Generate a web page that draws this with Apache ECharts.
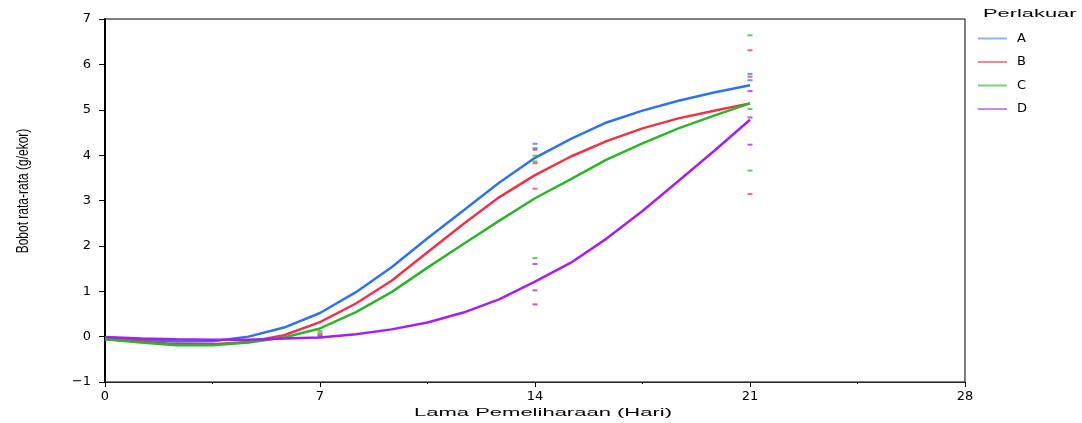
<!DOCTYPE html>
<html>
<head>
<meta charset="utf-8">
<script src="https://cdn.jsdelivr.net/npm/echarts@6/dist/echarts.min.js"></script>
<style>
html,body{margin:0;padding:0;background:#fff;}
#chart{width:1082px;height:423px;}
</style>
</head>
<body>
<div id="chart"></div>
<script>
// Fitted-curve sample days
const days = [0, 1.17, 2.33, 3.5, 4.67, 5.83, 7, 8.17, 9.33, 10.5, 11.67, 12.83, 14, 15.17, 16.33, 17.5, 18.67, 19.83, 21];
// Fitted curves per treatment
const fitA = [-0.04, -0.07, -0.11, -0.10, 0.00, 0.20, 0.52, 0.98, 1.53, 2.17, 2.78, 3.39, 3.94, 4.36, 4.72, 4.98, 5.20, 5.38, 5.54];
const fitB = [-0.06, -0.11, -0.17, -0.17, -0.12, 0.03, 0.32, 0.73, 1.23, 1.86, 2.48, 3.07, 3.56, 3.97, 4.31, 4.59, 4.81, 4.98, 5.14];
const fitC = [-0.06, -0.13, -0.19, -0.19, -0.13, -0.02, 0.18, 0.54, 0.98, 1.52, 2.04, 2.55, 3.05, 3.47, 3.90, 4.26, 4.59, 4.87, 5.14];
const fitD = [-0.01, -0.04, -0.06, -0.07, -0.07, -0.04, -0.02, 0.05, 0.16, 0.31, 0.53, 0.82, 1.21, 1.63, 2.16, 2.77, 3.43, 4.09, 4.78];
// Observed replicate values: [day, weight]
const obsA = [[14, 4.25], [14, 4.15], [21, 5.79], [21, 5.65]];
const obsB = [[7, 0.07], [14, 4.12], [14, 3.82], [14, 3.26], [21, 6.31], [21, 5.73], [21, 3.14]];
const obsC = [[7, 0.12], [7, 0.04], [14, 3.99], [14, 3.86], [14, 1.73], [21, 6.64], [21, 5.02], [21, 3.66]];
const obsD = [[7, 0.01], [14, 1.60], [14, 1.02], [14, 0.71], [21, 5.41], [21, 4.83], [21, 4.23]];
const groups = ['A', 'B', 'C', 'D'];
const xTicks = [0, 7, 14, 21, 28];
const yTicks = [-1, 0, 1, 2, 3, 4, 5, 6, 7];
const legendTitle = 'Perlakuar';
const xTitle = 'Lama Pemeliharaan (Hari)';
const yTitle = 'Bobot rata-rata (g/ekor)';

const colors = ['#2f72ee', '#ec3349', '#2cb52c', '#a41ff0'];
const legendColors = ['#8fb0f2', '#f08a94', '#7fcf7f', '#c884f2'];
const fits = [fitA, fitB, fitC, fitD];
const obs = [obsA, obsB, obsC, obsD];

const series = [];
groups.forEach((g, i) => {
  series.push({
    name: g, type: 'line', data: days.map((d, j) => [d, fits[i][j]]),
    showSymbol: false, symbol: 'none', smooth: false,
    lineStyle: { color: colors[i], width: 2.5 }, itemStyle: { color: colors[i] },
    z: 3, animation: false
  });
});
groups.forEach((g, i) => {
  series.push({
    name: g, type: 'scatter', data: obs[i],
    symbol: 'rect', symbolSize: [5, 2],
    itemStyle: { color: colors[i], opacity: 0.75 },
    z: 4, animation: false
  });
});

const FONT = 'Liberation Sans, Arial, sans-serif';
const WIDE = 'DejaVu Sans, Verdana, sans-serif';
const chart = echarts.init(document.getElementById('chart'));
chart.setOption({
  animation: false,
  backgroundColor: '#fff',
  graphic: [
    { type: 'text', x: 983, y: 14, scaleX: 1.9,
      style: { text: legendTitle, fontSize: 11.5, fontFamily: FONT, fill: '#000', textAlign: 'left', align: 'left', textVerticalAlign: 'middle', verticalAlign: 'middle' } },
    { type: 'text', x: 543, y: 413, scaleX: 2.0,
      style: { text: xTitle, fontSize: 11, fontFamily: FONT, fill: '#000', textAlign: 'center', align: 'center', textVerticalAlign: 'middle', verticalAlign: 'middle' } },
    { type: 'text', x: 23, y: 191, rotation: Math.PI / 2, scaleY: 1.4,
      style: { text: yTitle, fontSize: 12, fontFamily: FONT, fill: '#000', textAlign: 'center', align: 'center', textVerticalAlign: 'middle', verticalAlign: 'middle' } }
  ],
  legend: {
    orient: 'vertical', left: 973, top: 27, itemGap: 10.5,
    itemWidth: 29, itemHeight: 2,
    textStyle: { fontFamily: WIDE, fontSize: 13, color: '#000', padding: [0, 0, 0, 5] },
    data: groups.map((g, i) => ({ name: g, icon: 'rect', itemStyle: { color: legendColors[i] } }))
  },
  grid: { left: 105, right: 117, top: 19, bottom: 41, show: true, borderColor: '#000', borderWidth: 1 },
  xAxis: {
    type: 'value', min: xTicks[0], max: xTicks[xTicks.length - 1], interval: 7,
    axisLine: { onZero: false, lineStyle: { color: '#222', width: 1 } },
    axisTick: { length: 5, lineStyle: { color: '#000' } },
    minorTick: { show: true, splitNumber: 2, length: 2, lineStyle: { color: '#000' } },
    splitLine: { show: false },
    axisLabel: { margin: 8, fontFamily: WIDE, fontSize: 13, color: '#000' }
  },
  yAxis: {
    type: 'value', min: yTicks[0], max: yTicks[yTicks.length - 1], interval: 1,
    axisLine: { onZero: false, lineStyle: { color: '#000', width: 2 } },
    axisTick: { length: 6, lineStyle: { color: '#000' } },
    splitLine: { show: false },
    axisLabel: { margin: 14, fontFamily: WIDE, fontSize: 13, color: '#000',
      formatter: v => (v < 0 ? '\u2212' + Math.abs(v) : String(v)) }
  },
  series: series
});
</script>
</body>
</html>
